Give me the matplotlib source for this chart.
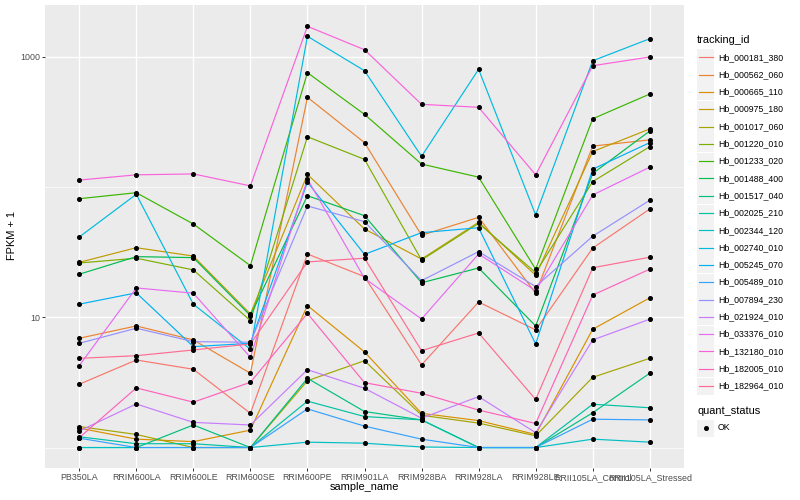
import matplotlib
matplotlib.use("Agg")
import matplotlib.pyplot as plt
from matplotlib.patches import Rectangle
from matplotlib.lines import Line2D
from matplotlib.ticker import NullFormatter

plt.rcParams['font.family'] = ['Liberation Sans', 'DejaVu Sans']

samples = ["PB350LA", "RRIM600LA", "RRIM600LE", "RRIM600SE", "RRIM600PE",
           "RRIM901LA", "RRIM928BA", "RRIM928LA", "RRIM928LE",
           "RRII105LA_Control", "RRII105LA_Stressed"]

tracking_ids = ["Hb_000181_380", "Hb_000562_060", "Hb_000665_110", "Hb_000975_180",
                "Hb_001017_060", "Hb_001220_010", "Hb_001233_020", "Hb_001488_400",
                "Hb_001517_040", "Hb_002025_210", "Hb_002344_120", "Hb_002740_010",
                "Hb_005245_070", "Hb_005489_010", "Hb_007894_230", "Hb_021924_010",
                "Hb_033376_010", "Hb_132180_010", "Hb_182005_010", "Hb_182964_010"]

colors = ["#F8766D", "#EA8331", "#D89000", "#C09B00", "#A3A500", "#7CAE00", "#39B600",
          "#00BB4E", "#00BF7D", "#00C1A3", "#00BFC4", "#00BAE0", "#00B0F6", "#35A2FF",
          "#9590FF", "#C77CFF", "#E76BF3", "#FA62DB", "#FF62BC", "#FF6C91"]

# FPKM + 1 values per tracking_id, one value per sample
hb_000181_380 = [3.06, 4.70, 3.99, 1.83, 30.6, 20.5, 4.31, 13.1, 8.0, 34.0, 67.8]
hb_000562_060 = [6.90, 8.58, 6.70, 3.72, 488, 219, 42.6, 58.5, 15.3, 206, 230]
hb_000665_110 = [1.41, 1.16, 1.11, 1.36, 12.3, 5.42, 1.83, 1.61, 1.26, 8.09, 14.1]
hb_000975_180 = [26.4, 34.2, 29.5, 10.6, 125, 47.6, 28.0, 53.6, 21.0, 187, 279]
hb_001017_060 = [1.45, 1.26, 1.0, 1.0, 3.26, 4.64, 1.77, 1.54, 1.23, 3.46, 4.84]
hb_001220_010 = [26.1, 28.4, 23.1, 9.42, 243, 163, 27.5, 52.6, 22.0, 110, 204]
hb_001233_020 = [81.3, 90.4, 52.0, 24.9, 754, 361, 150, 119, 23.4, 334, 517]
hb_001488_400 = [21.4, 29.2, 28.7, 10.3, 85.7, 60.2, 18.4, 23.9, 8.58, 127, 269]
hb_001517_040 = [1.0, 1.0, 1.49, 1.0, 3.40, 1.89, 1.63, 1.0, 1.0, 1.85, 3.72]
hb_002025_210 = [1.21, 1.07, 1.07, 1.0, 2.27, 1.73, 1.63, 1.0, 1.0, 2.15, 2.02]
hb_002344_120 = [1.0, 1.0, 1.0, 1.0, 1.10, 1.08, 1.01, 1.0, 1.0, 1.16, 1.10]
hb_002740_010 = [41.3, 87.9, 12.6, 5.68, 1435, 781, 172, 800, 61.0, 931, 1374]
hb_005245_070 = [12.6, 15.4, 5.95, 6.31, 109, 30.4, 44.6, 48.7, 6.24, 137, 219]
hb_005489_010 = [1.18, 1.0, 1.0, 1.0, 1.98, 1.46, 1.16, 1.0, 1.0, 1.65, 1.63]
hb_007894_230 = [6.31, 8.24, 6.50, 6.43, 71.5, 54.2, 19.1, 31.9, 17.2, 41.9, 79.1]
hb_021924_010 = [1.34, 2.16, 1.56, 1.49, 3.96, 2.85, 1.68, 2.46, 1.30, 6.70, 9.66]
hb_033376_010 = [4.25, 16.8, 15.3, 4.93, 115, 19.9, 9.70, 30.6, 16.0, 86.8, 142]
hb_132180_010 = [113, 124, 126, 102, 1711, 1132, 431, 409, 124, 853, 995]
hb_182005_010 = [1.19, 2.87, 2.23, 3.17, 10.7, 3.15, 2.61, 1.94, 1.53, 14.8, 23.4]
hb_182964_010 = [4.84, 5.07, 5.61, 6.24, 26.6, 28.4, 5.54, 7.58, 2.34, 24.0, 28.9]

series = [hb_000181_380, hb_000562_060, hb_000665_110, hb_000975_180, hb_001017_060,
          hb_001220_010, hb_001233_020, hb_001488_400, hb_001517_040, hb_002025_210,
          hb_002344_120, hb_002740_010, hb_005245_070, hb_005489_010, hb_007894_230,
          hb_021924_010, hb_033376_010, hb_132180_010, hb_182005_010, hb_182964_010]

W, H = 800, 500
fig = plt.figure(figsize=(8, 5), dpi=100)
fig.patch.set_facecolor('white')

def fx(x):
    return x / W

def fy(y):
    return 1 - y / H

left, right, top, bottom = 45, 684, 5, 468
ax = fig.add_axes([fx(left), fy(bottom), (right - left) / W, (bottom - top) / H])
ax.set_facecolor('#EBEBEB')
for s in ax.spines.values():
    s.set_visible(False)

xs = list(range(len(samples)))
for vals, col in zip(series, colors):
    ax.plot(xs, vals, color=col, lw=0.85, zorder=3, solid_capstyle='butt')
for vals in series:
    ax.plot(xs, vals, linestyle='none', marker='o', markersize=2.6,
            color='black', zorder=4)

ax.set_yscale('log')
ax.set_ylim(10 ** -0.157, 10 ** 3.397)
ax.set_xlim(-0.6, len(samples) - 0.4)
ax.set_xticks(xs)
ax.set_xticklabels(samples)
ax.set_yticks([10, 1000])
ax.set_yticklabels(['10', '1000'])
ax.set_yticks([1, 100], minor=True)
ax.yaxis.set_minor_formatter(NullFormatter())
ax.xaxis.set_minor_locator(matplotlib.ticker.NullLocator())
ax.grid(which='major', color='white', lw=1.0, zorder=1)
ax.grid(which='minor', axis='y', color='white', lw=0.5, zorder=1)
ax.set_axisbelow(True)
ax.tick_params(which='major', length=2.0, width=0.7, color='#333333',
               labelsize=6.4, labelcolor='#4D4D4D', pad=1.6)
ax.tick_params(which='minor', length=0)

fig.text(fx(12), fy(236), 'FPKM + 1', rotation=90, ha='center', va='center',
         fontsize=7.9, color='black')
fig.text(fx((left + right) / 2), fy(487), 'sample_name', ha='center', va='center',
         fontsize=7.9, color='black')

# legend: tracking_id
kx0, kw = 697, 17
fig.text(fx(kx0), fy(40), 'tracking_id', ha='left', va='center', fontsize=7.9)
step = 17.3
y0 = 57.3
for i, (name, col) in enumerate(zip(tracking_ids, colors)):
    yc = y0 + i * step
    fig.add_artist(Rectangle((fx(kx0), fy(yc + kw / 2)), kw / W, kw / H,
                             transform=fig.transFigure, facecolor='#F2F2F2',
                             edgecolor='none'))
    fig.add_artist(Line2D([fx(kx0 + 1.5), fx(kx0 + kw - 1.5)], [fy(yc), fy(yc)],
                          transform=fig.transFigure, color=col, lw=0.85))
    fig.text(fx(kx0 + kw + 4), fy(yc), name, ha='left', va='center', fontsize=6.35)

# legend: quant_status
fig.text(fx(kx0), fy(411), 'quant_status', ha='left', va='center', fontsize=7.9)
yc = 428
fig.add_artist(Rectangle((fx(kx0), fy(yc + kw / 2)), kw / W, kw / H,
                         transform=fig.transFigure, facecolor='#F2F2F2',
                         edgecolor='none'))
fig.add_artist(Line2D([fx(kx0 + kw / 2)], [fy(yc)], transform=fig.transFigure,
                      marker='o', markersize=2.6, color='black', linestyle='none'))
fig.text(fx(kx0 + kw + 4), fy(yc), 'OK', ha='left', va='center', fontsize=6.35)

fig.savefig('out.png', dpi=100)
